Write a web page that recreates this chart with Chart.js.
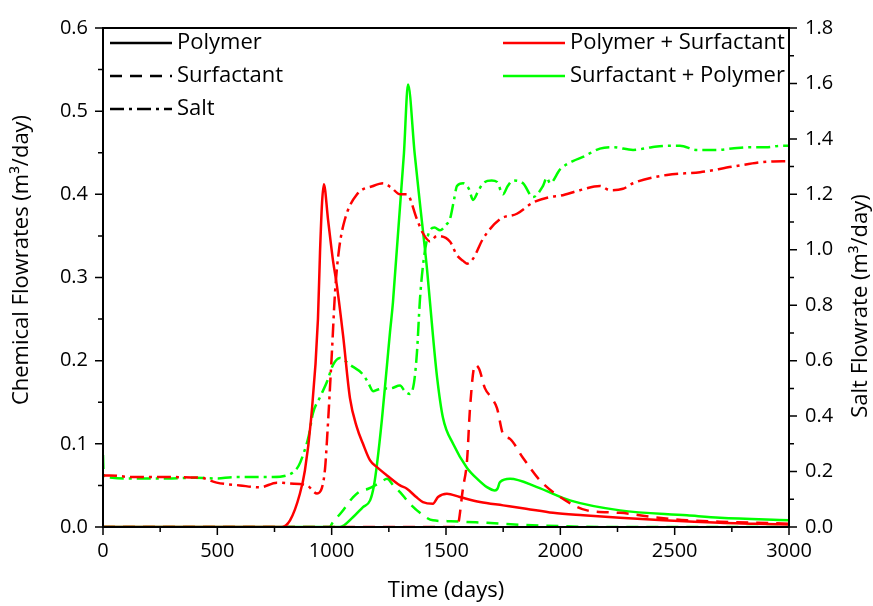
<!DOCTYPE html>
<html>
<head>
<meta charset="utf-8">
<script src="https://cdn.jsdelivr.net/npm/chart.js@4/dist/chart.umd.min.js"></script>
<style>
  html, body { margin: 0; padding: 0; background: #fff; }
</style>
</head>
<body>
<canvas id="chart" width="873" height="606"></canvas>
<script>
// Polymer + Surfactant (red)
const psPolymerDays = [0, 780, 818, 861, 883, 910, 940, 949, 958, 966, 984, 1006, 1023, 1050, 1080, 1110, 1137, 1168, 1198, 1242, 1299, 1329, 1370, 1399, 1443, 1465, 1504, 1560, 1649, 1750, 1850, 1968, 2100, 2261, 2450, 2698, 2850, 3000];
const psPolymerFlow = [0, 0, 0.008, 0.040, 0.068, 0.13, 0.25, 0.33, 0.39, 0.412, 0.37, 0.32, 0.29, 0.23, 0.155, 0.12, 0.10, 0.08, 0.072, 0.062, 0.05, 0.046, 0.036, 0.030, 0.028, 0.036, 0.040, 0.036, 0.030, 0.026, 0.022, 0.017, 0.014, 0.011, 0.008, 0.005, 0.004, 0.003];

const psSurfDays = [0, 1548, 1575, 1592, 1605, 1627, 1645, 1670, 1700, 1723, 1749, 1780, 1837, 1911, 1999, 2117, 2261, 2405, 2554, 2750, 3000];
const psSurfFlow = [0, 0, 0.048, 0.08, 0.143, 0.195, 0.19, 0.167, 0.155, 0.143, 0.112, 0.106, 0.083, 0.056, 0.036, 0.020, 0.017, 0.012, 0.008, 0.006, 0.004];

const psSaltDays = [0, 30, 131, 280, 424, 497, 599, 687, 760, 818, 892, 936, 957, 971, 980, 1001, 1015, 1032, 1058, 1111, 1181, 1225, 1260, 1299, 1329, 1373, 1399, 1430, 1461, 1517, 1548, 1575, 1592, 1620, 1662, 1736, 1810, 1880, 1955, 2000, 2086, 2173, 2217, 2274, 2318, 2466, 2611, 2755, 2904, 3000];
const psSaltFlow = [0.186, 0.186, 0.18, 0.18, 0.178, 0.16, 0.15, 0.143, 0.16, 0.157, 0.15, 0.121, 0.14, 0.21, 0.32, 0.63, 0.85, 1.0, 1.11, 1.2, 1.23, 1.24, 1.225, 1.20, 1.20, 1.11, 1.06, 1.03, 1.05, 1.03, 0.98, 0.96, 0.95, 0.97, 1.04, 1.11, 1.13, 1.17, 1.19, 1.195, 1.215, 1.23, 1.215, 1.22, 1.24, 1.27, 1.28, 1.30, 1.318, 1.32];

// Surfactant + Polymer (green)
const spPolymerDays = [0, 1036, 1094, 1137, 1168, 1185, 1198, 1220, 1242, 1255, 1268, 1316, 1334, 1363, 1386, 1417, 1443, 1461, 1487, 1531, 1592, 1640, 1679, 1714, 1725, 1736, 1780, 1898, 2042, 2261, 2554, 2698, 3000];
const spPolymerFlow = [0, 0, 0.012, 0.024, 0.032, 0.05, 0.075, 0.13, 0.195, 0.234, 0.27, 0.449, 0.532, 0.449, 0.389, 0.31, 0.23, 0.18, 0.131, 0.1, 0.071, 0.057, 0.048, 0.044, 0.046, 0.054, 0.058, 0.048, 0.032, 0.020, 0.014, 0.011, 0.008];

const spSurfDays = [0, 990, 1006, 1044, 1094, 1124, 1160, 1190, 1220, 1242, 1270, 1299, 1342, 1386, 1443, 1520, 1592, 1679, 1800, 2000, 2200, 3000];
const spSurfFlow = [0, 0, 0.006, 0.018, 0.036, 0.043, 0.046, 0.05, 0.055, 0.058, 0.05, 0.042, 0.028, 0.017, 0.008, 0.007, 0.006, 0.005, 0.003, 0.001, 0, 0];

const spSaltDays = [0, 3, 15, 100, 200, 300, 400, 500, 569, 650, 744, 800, 831, 855, 875, 900, 918, 950, 980, 1006, 1036, 1080, 1137, 1160, 1181, 1200, 1225, 1255, 1299, 1320, 1342, 1360, 1373, 1386, 1399, 1415, 1430, 1450, 1474, 1500, 1517, 1535, 1548, 1575, 1600, 1618, 1640, 1662, 1700, 1723, 1749, 1770, 1793, 1837, 1880, 1924, 1941, 1955, 1999, 2055, 2099, 2173, 2230, 2318, 2400, 2466, 2523, 2598, 2685, 2750, 2829, 2900, 2960, 3000];
const spSaltFlow = [0.26, 0.19, 0.18, 0.175, 0.175, 0.175, 0.178, 0.175, 0.18, 0.18, 0.18, 0.185, 0.197, 0.22, 0.26, 0.33, 0.41, 0.47, 0.525, 0.585, 0.61, 0.585, 0.55, 0.52, 0.49, 0.495, 0.50, 0.50, 0.51, 0.49, 0.48, 0.52, 0.63, 0.82, 0.94, 1.03, 1.07, 1.08, 1.07, 1.09, 1.11, 1.18, 1.23, 1.24, 1.22, 1.18, 1.21, 1.24, 1.25, 1.245, 1.20, 1.23, 1.25, 1.24, 1.19, 1.23, 1.26, 1.24, 1.29, 1.32, 1.335, 1.365, 1.37, 1.36, 1.37, 1.375, 1.375, 1.36, 1.36, 1.365, 1.37, 1.37, 1.375, 1.375];

const RED = "#ff0000";
const GREEN = "#00ff00";
const SOLID = [];
const DASH = [12, 8];
const DASHDOT = [14, 5, 3, 5];
const FONT = "'Open Sans', 'DejaVu Sans', sans-serif";

function pts(xs, ys) {
  return xs.map((x, i) => ({ x: x, y: ys[i] }));
}

function line(xs, ys, color, dash, axis) {
  return {
    data: pts(xs, ys),
    borderColor: color,
    borderWidth: 2.5,
    borderDash: dash,
    pointRadius: 0,
    fill: false,
    cubicInterpolationMode: "monotone",
    yAxisID: axis,
  };
}

// frame, minor/major ticks, axis titles and legend
const decor = {
  id: "decor",
  afterDatasetsDraw(chart) {
    const ctx = chart.ctx;
    const a = chart.chartArea;
    const xs = chart.scales.x, yl = chart.scales.y, yr = chart.scales.y2;
    ctx.save();
    ctx.strokeStyle = "#000";
    ctx.lineWidth = 2;
    ctx.setLineDash([]);
    ctx.strokeRect(a.left, a.top, a.right - a.left, a.bottom - a.top);

    ctx.lineWidth = 1.5;
    ctx.beginPath();
    for (let i = 0; i <= 12; i++) {
      const px = xs.getPixelForValue(i * 250);
      const len = i % 2 === 0 ? 8 : 5;
      ctx.moveTo(px, a.bottom);
      ctx.lineTo(px, a.bottom + len);
    }
    for (let i = 0; i <= 12; i++) {
      const py = yl.getPixelForValue(i * 0.05);
      const len = i % 2 === 0 ? 8 : 5;
      ctx.moveTo(a.left, py);
      ctx.lineTo(a.left - len, py);
    }
    for (let i = 0; i <= 18; i++) {
      const py = yr.getPixelForValue(i * 0.1);
      const len = i % 2 === 0 ? 8 : 5;
      ctx.moveTo(a.right, py);
      ctx.lineTo(a.right + len, py);
    }
    ctx.stroke();

    // axis titles
    ctx.fillStyle = "#000";
    ctx.font = "22px " + FONT;
    ctx.textAlign = "center";
    ctx.textBaseline = "middle";
    ctx.fillText("Time (days)", (a.left + a.right) / 2, 591);
    ctx.save();
    ctx.translate(22, 260);
    ctx.rotate(-Math.PI / 2);
    ctx.fillText("Chemical Flowrates (m\u00b3/day)", 0, 0);
    ctx.restore();
    ctx.save();
    ctx.translate(861, 306);
    ctx.rotate(-Math.PI / 2);
    ctx.fillText("Salt Flowrate (m\u00b3/day)", 0, 0);
    ctx.restore();

    // legend
    const rows = [
      { x: 110, y: 43, color: "#000", dash: SOLID, text: "Polymer" },
      { x: 110, y: 76, color: "#000", dash: DASH, text: "Surfactant" },
      { x: 110, y: 109, color: "#000", dash: DASHDOT, text: "Salt" },
      { x: 503, y: 43, color: RED, dash: SOLID, text: "Polymer + Surfactant" },
      { x: 503, y: 76, color: GREEN, dash: SOLID, text: "Surfactant + Polymer" },
    ];
    ctx.font = "22px " + FONT;
    ctx.textAlign = "left";
    rows.forEach(r => {
      ctx.strokeStyle = r.color;
      ctx.lineWidth = 2.5;
      ctx.setLineDash(r.dash);
      ctx.beginPath();
      ctx.moveTo(r.x, r.y);
      ctx.lineTo(r.x + 62, r.y);
      ctx.stroke();
      ctx.fillText(r.text, r.x + 67, r.y);
    });
    ctx.restore();
  },
};

const tickFont = { family: FONT, size: 20 };

new Chart(document.getElementById("chart"), {
  type: "line",
  data: {
    datasets: [
      line(psPolymerDays, psPolymerFlow, RED, SOLID, "y"),
      line(psSurfDays, psSurfFlow, RED, DASH, "y"),
      line(psSaltDays, psSaltFlow, RED, DASHDOT, "y2"),
      line(spPolymerDays, spPolymerFlow, GREEN, SOLID, "y"),
      line(spSurfDays, spSurfFlow, GREEN, DASH, "y"),
      line(spSaltDays, spSaltFlow, GREEN, DASHDOT, "y2"),
    ],
  },
  options: {
    responsive: false,
    animation: false,
    layout: { padding: { top: 23, left: 0, right: 0, bottom: 0 } },
    plugins: { legend: { display: false }, tooltip: { enabled: false } },
    scales: {
      x: {
        type: "linear",
        min: 0,
        max: 3000,
        grid: { display: false, drawTicks: false },
        border: { display: false },
        ticks: { stepSize: 500, color: "#000", font: tickFont, padding: 12, maxRotation: 0, callback: v => String(v) },
        afterFit: s => { s.height = 79; },
      },
      y: {
        position: "left",
        min: 0,
        max: 0.6,
        grid: { display: false, drawTicks: false },
        border: { display: false },
        ticks: { stepSize: 0.1, color: "#000", font: tickFont, padding: 15, callback: v => v.toFixed(1) },
        afterFit: s => { s.width = 103; },
      },
      y2: {
        position: "right",
        min: 0,
        max: 1.8,
        grid: { display: false, drawTicks: false },
        border: { display: false },
        ticks: { stepSize: 0.2, color: "#000", font: tickFont, padding: 16, callback: v => v.toFixed(1) },
        afterFit: s => { s.width = 84; },
      },
    },
  },
  plugins: [decor],
});
</script>
</body>
</html>
